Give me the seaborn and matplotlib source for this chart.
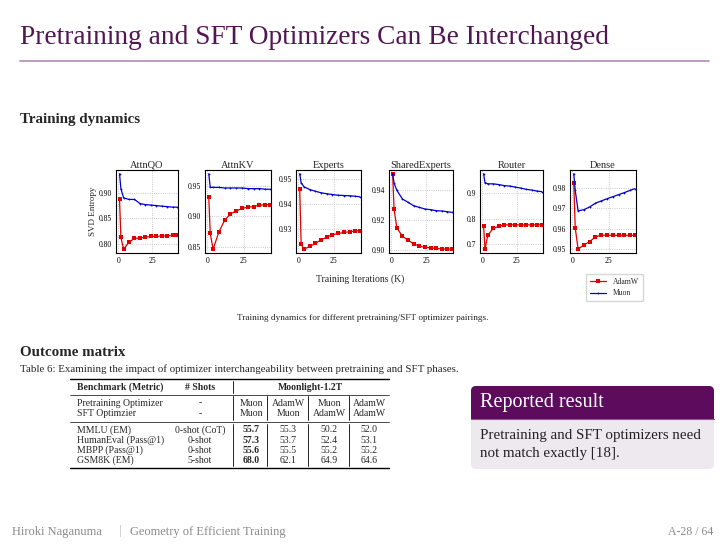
import matplotlib
matplotlib.use("Agg")
import matplotlib.pyplot as plt
import seaborn as sns
import pandas as pd
from matplotlib.patches import FancyBboxPatch, Rectangle
from matplotlib.ticker import FormatStrFormatter

# checkpoints (K iterations)
iters = [1, 2, 4, 8, 12, 16, 20, 24, 28, 32, 36, 40, 43]
panels = ["AttnQO", "AttnKV", "Experts", "SharedExperts", "Router", "Dense"]

adamw_attnqo = [0.887, 0.813, 0.790, 0.804, 0.811, 0.812, 0.813, 0.815, 0.815, 0.816, 0.816, 0.817, 0.817]
muon_attnqo = [0.937, 0.908, 0.890, 0.887, 0.887, 0.879, 0.877, 0.876, 0.875, 0.874, 0.873, 0.872, 0.872]
adamw_attnkv = [0.932, 0.873, 0.847, 0.875, 0.894, 0.904, 0.909, 0.913, 0.915, 0.916, 0.918, 0.919, 0.919]
muon_attnkv = [0.969, 0.947, 0.947, 0.947, 0.946, 0.946, 0.946, 0.946, 0.945, 0.945, 0.945, 0.944, 0.944]
adamw_experts = [0.9461, 0.9238, 0.9218, 0.9229, 0.9241, 0.9256, 0.9266, 0.9276, 0.9281, 0.9285, 0.9288, 0.9291, 0.9292]
muon_experts = [0.9520, 0.9484, 0.9468, 0.9457, 0.9450, 0.9444, 0.9440, 0.9437, 0.9434, 0.9433, 0.9432, 0.9430, 0.9428]
adamw_shared = [0.9507, 0.9270, 0.9144, 0.9089, 0.9062, 0.9038, 0.9022, 0.9016, 0.9011, 0.9007, 0.9004, 0.9004, 0.9002]
muon_shared = [0.9507, 0.9444, 0.9396, 0.9338, 0.9316, 0.9293, 0.9282, 0.9271, 0.9267, 0.9260, 0.9258, 0.9253, 0.9249]
adamw_router = [0.772, 0.678, 0.733, 0.761, 0.769, 0.775, 0.775, 0.775, 0.775, 0.775, 0.775, 0.775, 0.775]
muon_router = [0.978, 0.943, 0.938, 0.938, 0.935, 0.931, 0.929, 0.925, 0.921, 0.916, 0.913, 0.909, 0.907]
adamw_dense = [0.9824, 0.9604, 0.9499, 0.9520, 0.9536, 0.9560, 0.9568, 0.9567, 0.9567, 0.9567, 0.9567, 0.9567, 0.9567]
muon_dense = [0.9868, 0.9787, 0.9687, 0.9692, 0.9706, 0.9724, 0.9735, 0.9746, 0.9756, 0.9766, 0.9776, 0.9787, 0.9795]

yticks = [[0.80, 0.85, 0.90], [0.85, 0.90, 0.95], [0.93, 0.94, 0.95],
          [0.90, 0.92, 0.94], [0.7, 0.8, 0.9], [0.95, 0.96, 0.97, 0.98]]

# table data
bench = ["MMLU (EM)", "HumanEval (Pass@1)", "MBPP (Pass@1)", "GSM8K (EM)"]
shots = ["0-shot (CoT)", "0-shot", "0-shot", "5-shot"]
pre_opt = ["Muon", "AdamW", "Muon", "AdamW"]
sft_opt = ["Muon", "Muon", "AdamW", "AdamW"]
scores = [[55.7, 55.3, 50.2, 52.0],
          [57.3, 53.7, 52.4, 53.1],
          [55.6, 55.5, 55.2, 55.2],
          [68.0, 62.1, 64.9, 64.6]]

series = {
    "AttnQO": (adamw_attnqo, muon_attnqo),
    "AttnKV": (adamw_attnkv, muon_attnkv),
    "Experts": (adamw_experts, muon_experts),
    "SharedExperts": (adamw_shared, muon_shared),
    "Router": (adamw_router, muon_router),
    "Dense": (adamw_dense, muon_dense),
}
rows = []
for p in panels:
    a, m = series[p]
    for x, y in zip(iters, a):
        rows.append((p, "AdamW", x, y))
    for x, y in zip(iters, m):
        rows.append((p, "Muon", x, y))
df = pd.DataFrame(rows, columns=["panel", "opt", "iter", "entropy"])

sns.set_theme(style="whitegrid")
plt.rcParams["font.family"] = ["Liberation Serif", "DejaVu Serif"]

W, H = 726, 544
fig = plt.figure(figsize=(W / 100, H / 100), dpi=100)
fig.patch.set_facecolor("white")

# pixel-coordinate overlay for slide elements
bg = fig.add_axes([0, 0, 1, 1], zorder=-1)
bg.set_xlim(0, W)
bg.set_ylim(H, 0)
bg.axis("off")

purple = "#531654"
bg.text(20, 38, "Pretraining and SFT Optimizers Can Be Interchanged", fontsize=19.7,
        color=purple, va="center", ha="left")
bg.plot([20, 709], [61, 61], color="#b38cb5", lw=1.2)
bg.text(20, 120, "Training dynamics", fontsize=10.8, fontweight="bold", va="center")
bg.text(20, 353, "Outcome matrix", fontsize=10.8, fontweight="bold", va="center")

# panels
lefts = [116, 205, 296, 389, 480, 570]
rights = [178, 271, 361, 453, 543, 636]
top, bottom = 170, 253
pal = {"AdamW": "#e00000", "Muon": "#0000d0"}
handles = labels = None
for i, p in enumerate(panels):
    ax = fig.add_axes([lefts[i] / W, 1 - bottom / H, (rights[i] - lefts[i]) / W, (bottom - top) / H])
    sns.lineplot(data=df[df.panel == p], x="iter", y="entropy", hue="opt", style="opt",
                 markers={"AdamW": "s", "Muon": "."}, dashes=False, palette=pal,
                 markersize=2.6, markeredgewidth=0, linewidth=0.9, ax=ax)
    handles, labels = ax.get_legend_handles_labels()
    ax.get_legend().remove()
    ax.set_xlim(-1.6, 44)
    ax.set_xticks([0, 25])
    ax.set_yticks(yticks[i])
    ax.yaxis.set_major_formatter(FormatStrFormatter("%.1f" if p == "Router" else "%.2f"))
    ax.set_title(p, fontsize=7.5, pad=1.5)
    ax.set_xlabel("")
    ax.set_ylabel("SVD Entropy" if i == 0 else "", fontsize=6.5, labelpad=1)
    ax.tick_params(labelsize=5.5, length=1.5, width=0.5, pad=1.5, colors="black")
    ax.grid(True, linestyle=":", color="#bbbbbb", linewidth=0.6)
    for s in ax.spines.values():
        s.set_color("black")
        s.set_linewidth(0.8)

fig.text(360 / W, 1 - 279 / H, "Training Iterations (K)", fontsize=7, ha="center", va="center")
fig.legend(handles, labels, loc="upper left", bbox_to_anchor=(582 / W, 1 - 270 / H),
           fontsize=5.5, frameon=True, edgecolor="#cccccc", fancybox=False,
           handlelength=2.2, borderpad=0.5, labelspacing=0.5)

bg.text(363, 318, "Training dynamics for different pretraining/SFT optimizer pairings.",
        fontsize=6.7, ha="center", va="center")

# table
bg.text(20, 369, "Table 6: Examining the impact of optimizer interchangeability between pretraining and SFT phases.",
        fontsize=7.85, va="center")
tl, tr = 70, 389
bx = 77
sx = 200
cols = [251, 288, 329, 369]
bars = [233, 267, 308, 349]
fs = 7
bg.plot([tl, tr], [379, 379], color="black", lw=1.0)
bg.text(bx, 387, "Benchmark (Metric)", fontsize=fs, fontweight="bold", va="center")
bg.text(sx, 387, "# Shots", fontsize=fs, fontweight="bold", va="center", ha="center")
bg.text(310, 387, "Moonlight-1.2T", fontsize=fs, fontweight="bold", va="center", ha="center")
bg.plot([bars[0], bars[0]], [381, 393], color="black", lw=0.6)
bg.plot([tl, tr], [394.5, 394.5], color="black", lw=0.5)
bg.text(bx, 403, "Pretraining Optimizer", fontsize=fs, va="center")
bg.text(bx, 414, "SFT Optimzier", fontsize=fs, va="center")
bg.text(sx, 403, "-", fontsize=fs, va="center", ha="center")
bg.text(sx, 414, "-", fontsize=fs, va="center", ha="center")
for c, a, b in zip(cols, pre_opt, sft_opt):
    bg.text(c, 403, a, fontsize=fs, va="center", ha="center")
    bg.text(c, 414, b, fontsize=fs, va="center", ha="center")
for xb in bars:
    bg.plot([xb, xb], [396, 420], color="black", lw=0.6)
    bg.plot([xb, xb], [424, 466], color="black", lw=0.6)
bg.plot([tl, tr], [422, 422], color="black", lw=0.5)
for r, (b, s, vals) in enumerate(zip(bench, shots, scores)):
    y = 430 + r * 10.2
    bg.text(bx, y, b, fontsize=fs, va="center")
    bg.text(sx, y, s, fontsize=fs, va="center", ha="center")
    for j, (c, v) in enumerate(zip(cols, vals)):
        bg.text(c, y, f"{v:.1f}", fontsize=fs, va="center", ha="center",
                fontweight="bold" if j == 0 else "normal")
bg.plot([tl, tr], [468, 468], color="black", lw=1.0)

# reported result box
bx0, bx1, by0, ymid, by1 = 471, 714, 386, 419, 469
bg.add_patch(FancyBboxPatch((bx0, by0), bx1 - bx0, by1 - by0,
                            boxstyle="round,pad=0,rounding_size=5", fc="#eee8ef", ec="none"))
bg.add_patch(FancyBboxPatch((bx0, by0), bx1 - bx0, ymid - by0,
                            boxstyle="round,pad=0,rounding_size=5", fc="#5c0b5d", ec="none"))
bg.add_patch(Rectangle((bx0, ymid - 6), bx1 - bx0, 6, fc="#5c0b5d", ec="none"))
bg.plot([bx0, bx1], [ymid, ymid], color="#8a5a8c", lw=0.8)
bg.text(480, 403, "Reported result", fontsize=14.5, color="white", va="center")
bg.text(480, 436, "Pretraining and SFT optimizers need", fontsize=10.8, va="center", color="#222222")
bg.text(480, 454, "not match exactly [18].", fontsize=10.8, va="center", color="#222222")

# footer
grey = "#8a8a8a"
bg.text(12, 532, "Hiroki Naganuma", fontsize=9, color=grey, va="center")
bg.text(120, 531, "|", fontsize=9, color="#bbbbbb", va="center", ha="center")
bg.text(130, 532, "Geometry of Efficient Training", fontsize=9, color=grey, va="center")
bg.text(713, 532, "A-28 / 64", fontsize=8.5, color=grey, va="center", ha="right")

fig.savefig("out.png", dpi=100)
